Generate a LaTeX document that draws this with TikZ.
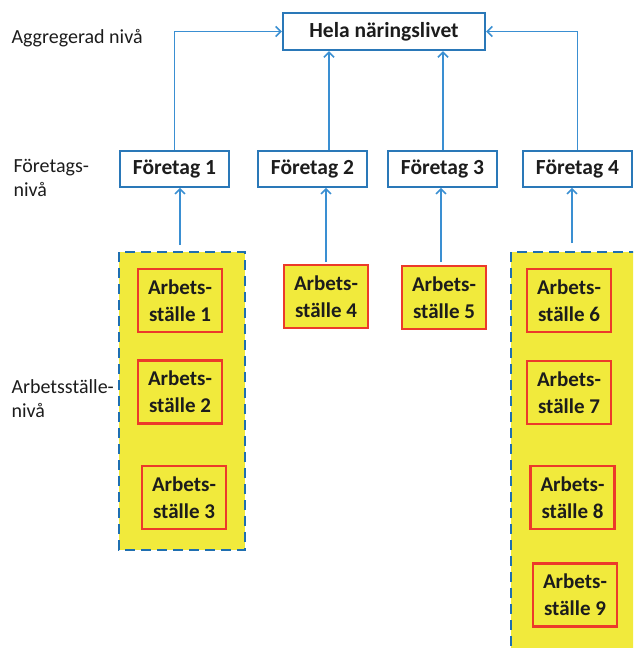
\documentclass[tikz,border=0pt]{standalone}
\usepackage{fontspec}
\setmainfont{Carlito}
\usetikzlibrary{arrows.meta}
\definecolor{lineblue}{HTML}{3A8FD2}
\definecolor{boxblue}{HTML}{2A78B8}
\definecolor{dashblue}{HTML}{1F6FB0}
\definecolor{yel}{HTML}{F1EA3C}
\definecolor{redb}{HTML}{EC3A2A}
\definecolor{txt}{HTML}{1C1C1C}
\tikzset{
  lvl/.style={anchor=west,text=txt,font=\fontsize{20}{24}\selectfont,align=left},
  topbox/.style={draw=boxblue,line width=2.4pt,fill=white,minimum width=202pt,minimum height=37pt,inner sep=0pt,text=txt,font=\bfseries\fontsize{21.5}{24}\selectfont},
  firmbox/.style={draw=boxblue,line width=1.8pt,fill=white,minimum width=109pt,minimum height=36pt,inner sep=0pt,text=txt,font=\bfseries\fontsize{21.5}{24}\selectfont},
  workbox/.style={draw=redb,line width=2.4pt,fill=yel,minimum width=84pt,minimum height=63pt,inner sep=0pt,align=center,text=txt,font=\bfseries\fontsize{21}{27}\selectfont},
  grpbox/.style={draw=dashblue,line width=2.8pt,dash pattern=on 10pt off 6pt,fill=yel},
  conn/.style={draw=lineblue,line width=1.7pt,-{Straight Barb[length=5pt,width=10pt,line width=1.5pt]}}
}
\begin{document}
\begin{tikzpicture}[x=1pt,y=-1pt]
\useasboundingbox (0,0) rectangle (633,648);
\clip (0,0) rectangle (633,648);
% level labels
\node[lvl] (L1) at (8,38) {Aggregerad nivå};
\node[lvl,align=left] (L2) at (10,178) {Företags-\\nivå};
\node[lvl,align=left] (L3) at (8,399) {Arbetsställe-\\nivå};
% group boxes
\draw[grpbox] (119,252) rectangle (245,550);
\draw[grpbox] (511,252) rectangle (650,665);
% top
\node[topbox] (H) at (384,31.5) {Hela näringslivet};
% firms
\node[firmbox] (F1) at (174.5,169) {Företag 1};
\node[firmbox] (F2) at (312.5,169) {Företag 2};
\node[firmbox] (F3) at (442.5,169) {Företag 3};
\node[firmbox] (F4) at (577.5,169) {Företag 4};
% workplaces
\node[workbox] (A1) at (180,300.5) {Arbets-\\ställe 1};
\node[workbox] (A2) at (180,392) {Arbets-\\ställe 2};
\node[workbox] (A3) at (184,497.5) {Arbets-\\ställe 3};
\node[workbox] (A4) at (326,296.5) {Arbets-\\ställe 4};
\node[workbox] (A5) at (444,297.5) {Arbets-\\ställe 5};
\node[workbox] (A6) at (569,300.5) {Arbets-\\ställe 6};
\node[workbox] (A7) at (569,392.5) {Arbets-\\ställe 7};
\node[workbox] (A8) at (572.5,497.5) {Arbets-\\ställe 8};
\node[workbox] (A9) at (575,595) {Arbets-\\ställe 9};
% coordinates for connector feet
\coordinate (g1top) at (180,245);
\coordinate (g2top) at (572,243);
\coordinate (a4top) at (326,262);
\coordinate (a5top) at (441,262);
\coordinate (h2) at (329,0);
\coordinate (h3) at (443,0);
% connectors up to top
\draw[conn] (F1.north) |- (H.west);
\draw[conn] (F4.north) |- (H.east);
\draw[conn] (h2 |- F2.north) -- (h2 |- H.south);
\draw[conn] (h3 |- F3.north) -- (h3 |- H.south);
% connectors to firms
\draw[conn] (g1top) -- (g1top |- F1.south);
\draw[conn] (a4top) -- (a4top |- F2.south);
\draw[conn] (a5top) -- (a5top |- F3.south);
\draw[conn] (g2top) -- (g2top |- F4.south);
\end{tikzpicture}
\end{document}
